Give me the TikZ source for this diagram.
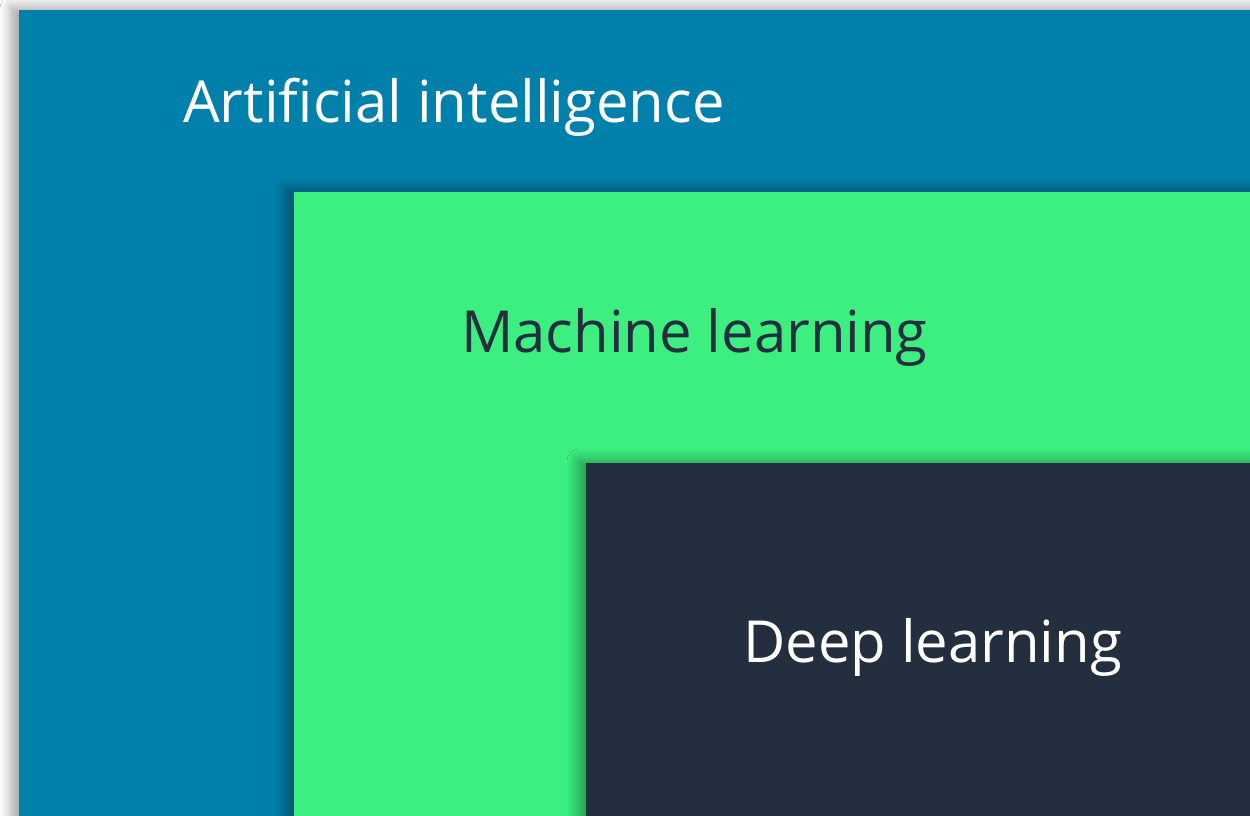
\documentclass[tikz,border=0pt]{standalone}
\usepackage{fontspec}
\setmainfont{Open Sans}
\usetikzlibrary{shadows.blur}
\definecolor{aiblue}{HTML}{0080AA}
\definecolor{mlgreen}{HTML}{3CEF80}
\definecolor{dlink}{HTML}{232F3E}
\tikzset{
  layer/.style={draw=none, blur shadow={shadow xshift=-7pt, shadow yshift=2pt, shadow blur radius=12pt, shadow blur steps=12, shadow opacity=40}},
  lbl/.style={anchor=base west, inner sep=0pt, font=\fontsize{58}{70}\selectfont}
}
\begin{document}
\begin{tikzpicture}[x=1pt,y=-1pt]
\useasboundingbox (0,0) rectangle (1250,816);
\clip (0,0) rectangle (1250,816);
\fill[white] (0,0) rectangle (1250,816);
\path[layer, fill=aiblue] (19,10) rectangle (1300,900);
\path[layer, fill=mlgreen] (294,192) rectangle (1300,900);
\path[layer, fill=dlink] (586,463) rectangle (1300,900);
\node[lbl, text=white] (ai) at (183,122) {Artificial intelligence};
\node[lbl, text=dlink] (ml) at (461,352) {Machine learning};
\node[lbl, text=white] (dl) at (743,662) {Deep learning};
\end{tikzpicture}
\end{document}
